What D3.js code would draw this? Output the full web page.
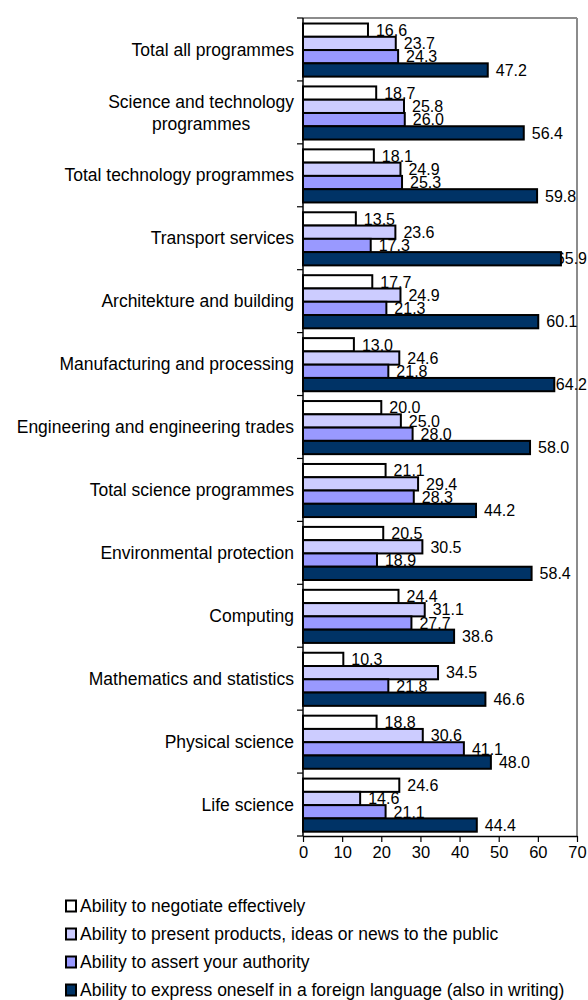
<!DOCTYPE html>
<html>
<head>
<meta charset="utf-8">
<script src="https://cdn.jsdelivr.net/npm/d3@7"></script>
<style>
  html, body { margin: 0; padding: 0; background: #fff; }
  svg { display: block; font-family: "Liberation Sans", Arial, sans-serif; }
</style>
</head>
<body>
<svg id="chart" width="588" height="1000"></svg>
<script>
// Programme groups, top to bottom
const categories = [
  "Total all programmes",
  "Science and technology programmes",
  "Total technology programmes",
  "Transport services",
  "Architekture and building",
  "Manufacturing and processing",
  "Engineering and engineering trades",
  "Total science programmes",
  "Environmental protection",
  "Computing",
  "Mathematics and statistics",
  "Physical science",
  "Life science"
];

// One array per skill, aligned with categories
const negotiate = [16.6, 18.7, 18.1, 13.5, 17.7, 13.0, 20.0, 21.1, 20.5, 24.4, 10.3, 18.8, 24.6];
const present   = [23.7, 25.8, 24.9, 23.6, 24.9, 24.6, 25.0, 29.4, 30.5, 31.1, 34.5, 30.6, 14.6];
const authority = [24.3, 26.0, 25.3, 17.3, 21.3, 21.8, 28.0, 28.3, 18.9, 27.7, 21.8, 41.1, 21.1];
const foreign   = [47.2, 56.4, 59.8, 65.9, 60.1, 64.2, 58.0, 44.2, 58.4, 38.6, 46.6, 48.0, 44.4];

const seriesNames = [
  "Ability to negotiate effectively",
  "Ability to present products, ideas or news to the public",
  "Ability to assert your authority",
  "Ability to express oneself in a foreign language (also in writing)"
];
const seriesValues = [negotiate, present, authority, foreign];
const seriesColors = ["#FFFFFF", "#CCCCFF", "#9999FF", "#003366"];

const xTicks = [0, 10, 20, 30, 40, 50, 60, 70];

// Layout
const W = 588;
const plot = { left: 303, right: 577, top: 18, bottom: 836 };

const svg = d3.select("#chart");

const x = d3.scaleLinear().domain([0, 70]).range([plot.left, plot.right]);
const y = d3.scaleBand().domain(categories).range([plot.top, plot.bottom]).padding(0);
const inner = d3.scaleBand()
  .domain(d3.range(seriesNames.length))
  .range([0, y.bandwidth()])
  .paddingOuter(0.37)
  .paddingInner(0);

// Plot frame (top and right in grey)
svg.append("line")
  .attr("x1", plot.left).attr("x2", plot.right)
  .attr("y1", plot.top).attr("y2", plot.top)
  .attr("stroke", "#8c8c8c").attr("stroke-width", 2);
svg.append("line")
  .attr("x1", plot.right).attr("x2", plot.right)
  .attr("y1", plot.top).attr("y2", plot.bottom)
  .attr("stroke", "#8c8c8c").attr("stroke-width", 2);

const groups = svg.append("g").selectAll("g")
  .data(categories)
  .join("g")
  .attr("transform", d => `translate(0,${y(d) + 0.6})`);

const fmt = d3.format(".1f");

// Value labels first so bars overlap them where they collide
const labels = groups.selectAll("text.val")
  .data((d, i) => seriesValues.map((vals, s) => ({ s, v: vals[i] })))
  .join("text")
  .attr("class", "val")
  .attr("font-size", 16)
  .attr("fill", "#000")
  .attr("y", d => inner(d.s) + inner.bandwidth() / 2)
  .attr("dy", "0.36em")
  .text(d => fmt(d.v));

labels.each(function(d) {
  const w = this.getComputedTextLength();
  let lx = x(d.v) + 8;
  if (lx + w > W - 1) lx = W - 1 - w;
  d3.select(this).attr("x", lx);
});

// Bars
groups.selectAll("rect")
  .data((d, i) => seriesValues.map((vals, s) => ({ s, v: vals[i] })))
  .join("rect")
  .attr("x", x(0))
  .attr("y", d => inner(d.s))
  .attr("width", d => x(d.v) - x(0))
  .attr("height", inner.bandwidth())
  .attr("fill", d => seriesColors[d.s])
  .attr("stroke", "#000")
  .attr("stroke-width", 2);

// Category axis: ticks at band boundaries, labels centred in each band
const yAxis = svg.append("g");
yAxis.append("line")
  .attr("x1", plot.left).attr("x2", plot.left)
  .attr("y1", plot.top).attr("y2", plot.bottom)
  .attr("stroke", "#000").attr("stroke-width", 1.5);
yAxis.selectAll("line.tick")
  .data(categories.map(c => y(c)).concat([plot.bottom]))
  .join("line")
  .attr("class", "tick")
  .attr("x1", plot.left - 6).attr("x2", plot.left)
  .attr("y1", d => d).attr("y2", d => d)
  .attr("stroke", "#000").attr("stroke-width", 1.2);

// Long names wrap into two centred lines, right-aligned as a block
const wrapped = { "Science and technology programmes": ["Science and technology", "programmes"] };
const labelRight = plot.left - 9;
const lineH = 22;

categories.forEach(c => {
  const lines = wrapped[c] || [c];
  const cy = y(c) + y.bandwidth() / 2;
  const t = svg.append("text")
    .attr("font-size", 17.5)
    .attr("fill", "#000");
  lines.forEach((ln, k) => {
    t.append("tspan")
      .attr("y", cy + (k - (lines.length - 1) / 2) * lineH)
      .attr("dy", "0.35em")
      .text(ln);
  });
  // measure widest line, then centre each line within the block
  const spans = t.selectAll("tspan").nodes();
  const widths = spans.map(n => n.getComputedTextLength());
  const maxW = d3.max(widths);
  const centre = labelRight - maxW / 2;
  spans.forEach(n => d3.select(n).attr("x", centre).attr("text-anchor", "middle"));
});

// Value axis
const xAxis = d3.axisBottom(x)
  .tickValues(xTicks)
  .tickFormat(d3.format("d"))
  .tickSize(6)
  .tickSizeOuter(0);
const gx = svg.append("g")
  .attr("transform", `translate(0,${plot.bottom})`)
  .call(xAxis);
gx.select(".domain").attr("stroke", "#000").attr("stroke-width", 1.5);
gx.selectAll(".tick line").attr("stroke", "#000").attr("stroke-width", 1.2);
gx.selectAll(".tick text")
  .attr("font-family", "Liberation Sans, Arial, sans-serif")
  .attr("font-size", 16.5)
  .attr("fill", "#000")
  .attr("y", 16)
  .attr("dy", "0.36em");

// Legend
const legend = svg.append("g").attr("transform", "translate(65,906)");
const items = legend.selectAll("g")
  .data(seriesNames)
  .join("g")
  .attr("transform", (d, i) => `translate(0,${i * 28})`);
items.append("rect")
  .attr("x", 1).attr("y", -5.5)
  .attr("width", 10).attr("height", 11)
  .attr("fill", (d, i) => seriesColors[i])
  .attr("stroke", "#000").attr("stroke-width", 2);
items.append("text")
  .attr("x", 15)
  .attr("dy", "0.35em")
  .attr("font-size", 17.5)
  .attr("fill", "#000")
  .text(d => d);
</script>
</body>
</html>
